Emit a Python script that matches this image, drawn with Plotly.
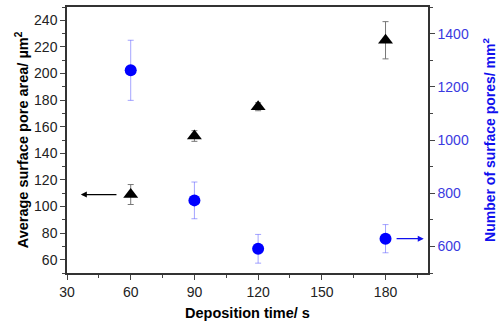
import plotly.graph_objects as go

time_s = [60, 90, 120, 180]
pore_area = [109, 153, 175, 225]
pore_area_err = [7.5, 4, 3, 14]
pore_count = [1262, 773, 591, 629]
pore_count_err = [113, 69, 54, 53]

x_ticks = [30, 60, 90, 120, 150, 180]
y_ticks = [60, 80, 100, 120, 140, 160, 180, 200, 220, 240]
y2_ticks = [600, 800, 1000, 1200, 1400]

BLUE = "#1010ee"
TBLUE = "#3a3ae0"
FONT = "Arial, Liberation Sans, sans-serif"

fig = go.Figure()
fig.add_trace(go.Scatter(
    x=time_s, y=pore_area, mode="markers",
    marker=dict(symbol="triangle-up", size=13, color="black"),
    error_y=dict(type="data", array=pore_area_err, color="#777777", thickness=1, width=3),
    yaxis="y", showlegend=False))
fig.add_trace(go.Scatter(
    x=time_s, y=pore_count, mode="markers",
    marker=dict(symbol="circle", size=12, color="#0000ff"),
    error_y=dict(type="data", array=pore_count_err, color="rgba(90,90,255,0.55)", thickness=1, width=3),
    yaxis="y2", showlegend=False))

# arrows
fig.add_annotation(x=36.5, y=pore_area[0], ax=54, ay=pore_area[0], xref="x", yref="y",
                   axref="x", ayref="y", showarrow=True, arrowhead=2, arrowsize=1,
                   arrowwidth=1.2, arrowcolor="black", text="")
fig.add_annotation(x=198, y=pore_count[3], ax=184.5, ay=pore_count[3], xref="x", yref="y2",
                   axref="x", ayref="y2", showarrow=True, arrowhead=2, arrowsize=1,
                   arrowwidth=1.2, arrowcolor=BLUE, text="")

fig.update_layout(
    width=504, height=329,
    margin=dict(l=67, r=76, t=5, b=56),
    plot_bgcolor="white", paper_bgcolor="white",
    font=dict(family=FONT, size=14, color="black"),
    xaxis=dict(range=[30, 200], tickvals=x_ticks, ticks="outside", ticklen=5,
               showline=True, linecolor="#333", linewidth=1.5, mirror=True, showgrid=False,
               zeroline=False, tickfont=dict(size=14, color="#222"),
               minor=dict(dtick=15, tick0=30, ticks="outside", ticklen=3),
               title=dict(text="<b>Deposition time/ s</b>", font=dict(size=14.5), standoff=9)),
    yaxis=dict(range=[50, 250], tickvals=y_ticks, ticks="outside", ticklen=5,
               showline=True, linecolor="#333", linewidth=1.5, showgrid=False, zeroline=False,
               tickfont=dict(size=14, color="#222"),
               minor=dict(dtick=10, tick0=50, ticks="outside", ticklen=3),
               title=dict(text="<b>Average surface pore area/ µm<sup>2</sup></b>",
                          font=dict(size=14.5), standoff=2)),
    yaxis2=dict(range=[500, 1500], tickvals=y2_ticks, overlaying="y", side="right",
                ticks="outside", ticklen=5, showline=True, linecolor="#333", linewidth=1.5,
                showgrid=False, zeroline=False, tickfont=dict(size=14, color=TBLUE),
                minor=dict(dtick=100, tick0=500, ticks="outside", ticklen=3),
                title=dict(text="<b>Number of surface pores/ mm<sup>2</sup></b>",
                           font=dict(size=14, color=BLUE), standoff=17)),
)

fig.write_html("out.html")
